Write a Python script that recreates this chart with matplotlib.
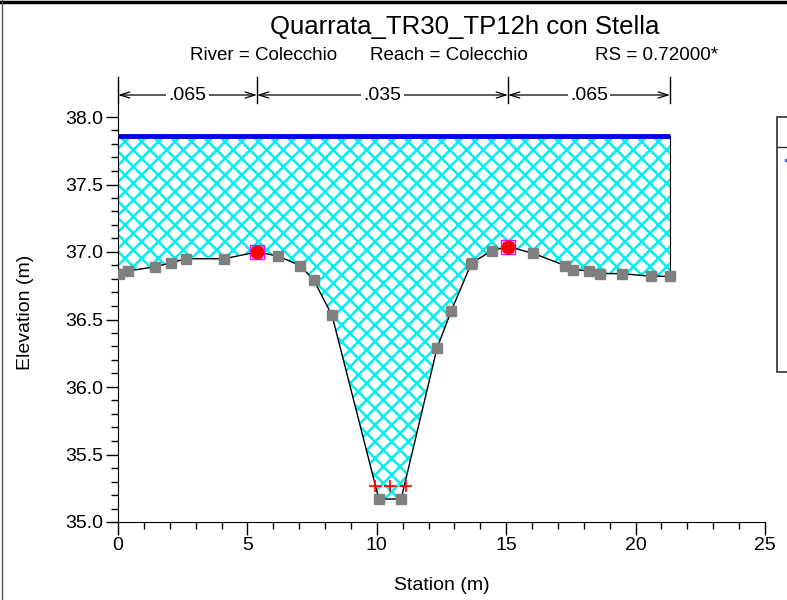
import matplotlib
matplotlib.use("Agg")
import matplotlib.pyplot as plt
from matplotlib.patches import Rectangle
from matplotlib.lines import Line2D
import matplotlib.transforms as mtransforms
import numpy as np

plt.rcParams['font.family'] = ['Liberation Sans', 'DejaVu Sans']
plt.rcParams['hatch.linewidth'] = 1.8
plt.rcParams['hatch.color'] = '#00f0f0'

# ---- data ----
station = [0.04, 0.39, 1.43, 2.05, 2.63, 4.10, 5.37, 6.18, 7.03, 7.57, 8.27,
           10.08, 10.94, 12.33, 12.87, 13.64, 13.68, 14.45, 15.07, 16.04,
           17.27, 17.58, 18.20, 18.62, 19.47, 20.60, 21.33]
elevation = [36.84, 36.86, 36.89, 36.92, 36.95, 36.95, 37.00, 36.97, 36.90, 36.79, 36.53,
             35.17, 35.17, 36.29, 36.56, 36.91, 36.92, 37.01, 37.04, 36.99,
             36.90, 36.87, 36.86, 36.84, 36.84, 36.82, 36.82]
bank_station = [5.37, 15.07]
bank_elev = [37.00, 37.04]
ws_elev = 37.86
ineff_station = [9.93, 10.51, 11.13]
ineff_elev = [35.27, 35.27, 35.27]
n_edges = [0.0, 5.37, 15.07, 21.33]
n_values = ['.065', '.035', '.065']

title = 'Quarrata_TR30_TP12h con Stella'
sub_parts = ['River = Colecchio', 'Reach = Colecchio', 'RS = 0.72000*']

fig = plt.figure(figsize=(7.87, 6.0), dpi=100)
ax = fig.add_axes([118/787, 78/600, 647/787, 418.5/600])

st = np.array(station)
el = np.array(elevation)
st_fill = np.concatenate([[0.0], st])
el_fill = np.concatenate([[el[0]], el])

ax.fill_between(st_fill, el_fill, ws_elev, facecolor='white',
                edgecolor='#00f0f0', hatch='xx', linewidth=0, zorder=1)
ax.plot(st, el, color='black', lw=1.0, zorder=3)
ax.plot([st[-1], st[-1]], [el[-1], ws_elev], color='black', lw=0.8, zorder=3)
ax.plot([0, st[-1]], [ws_elev, ws_elev], color='#0000e0', lw=3.5, zorder=4,
        solid_capstyle='butt')
ax.plot(st, el, linestyle='none', marker='s', ms=6.5, color='#808080', zorder=5)
ax.plot(bank_station, bank_elev, linestyle='none', marker='s', ms=10,
        markerfacecolor='none', markeredgecolor='#ff00ff', mew=1.0, zorder=6)
ax.plot(bank_station, bank_elev, linestyle='none', marker='o', ms=9,
        color='#ff0000', zorder=7)
ax.plot(ineff_station, ineff_elev, color='#ff4040', lw=0.8, ls='-.', marker='+',
        ms=9, mew=1.2, mec='#ff0000', zorder=6)

ax.set_xlim(0, 25)
ax.set_ylim(35.0, 38.1)
ax.set_xticks([0, 5, 10, 15, 20, 25])
ax.set_xticks(np.arange(0, 26, 1), minor=True)
ax.set_yticks([35.0, 35.5, 36.0, 36.5, 37.0, 37.5, 38.0])
ax.set_yticks(np.arange(35.0, 38.05, 0.1), minor=True)
ax.yaxis.set_major_formatter(matplotlib.ticker.FormatStrFormatter('%.1f'))
ax.spines['top'].set_visible(False)
ax.spines['right'].set_visible(False)
ax.tick_params(axis='both', which='major', direction='out', length=9, width=1,
               labelsize=14, pad=2)
ax.tick_params(axis='both', which='minor', direction='out', length=5, width=1)
ax.set_xlabel('Station (m)', fontsize=14, labelpad=16)
ax.set_ylabel('Elevation (m)', fontsize=14, labelpad=22)

# Manning's n annotation
trans = mtransforms.blended_transform_factory(ax.transData, ax.transAxes)
for x in n_edges:
    ax.add_line(Line2D([x, x], [1.002, 1.063], transform=trans, color='black',
                       lw=1.0, clip_on=False))
for i, lab in enumerate(n_values):
    x0, x1 = n_edges[i], n_edges[i + 1]
    ax.annotate('', xy=(x0, 1.0203), xytext=(x1, 1.0203), xycoords=trans,
                textcoords=trans,
                arrowprops=dict(arrowstyle='<->,head_length=0.7,head_width=0.22',
                                color='black', lw=0.9, shrinkA=0, shrinkB=0),
                annotation_clip=False)
    ax.text((x0 + x1) / 2, 1.0203, lab, transform=trans, ha='center', va='center',
            fontsize=14, bbox=dict(facecolor='white', edgecolor='none', pad=1.5),
            clip_on=False, zorder=10)

fig.text(465/787, 1 - 27/600, title, ha='center', va='center', fontsize=18.5)
sub_x = [190, 370, 595]
for xp, txt in zip(sub_x, sub_parts):
    fig.text(xp/787, 1 - 56/600, txt, ha='left', va='center', fontsize=13.5)

# legend box stub at right edge
fig.add_artist(Rectangle((777/787, 1 - 372/600), 0.05, (372 - 117)/600,
                         transform=fig.transFigure, facecolor='white',
                         edgecolor='#303030', lw=1.2))
fig.add_artist(Line2D([777/787, 1.0], [1 - 147/600, 1 - 147/600],
                      transform=fig.transFigure, color='#303030', lw=1.0))
fig.add_artist(Line2D([786/787], [1 - 160/600], transform=fig.transFigure,
                      marker='s', ms=1.5, color='#6060ff', linestyle='none'))

# figure frame
fig.add_artist(Line2D([0, 1], [1 - 1.5/600, 1 - 1.5/600], transform=fig.transFigure,
                      color='black', lw=2.5))
fig.add_artist(Line2D([2/787, 2/787], [0, 1], transform=fig.transFigure,
                      color='#505050', lw=1.0))

fig.savefig('out.png', dpi=100)
